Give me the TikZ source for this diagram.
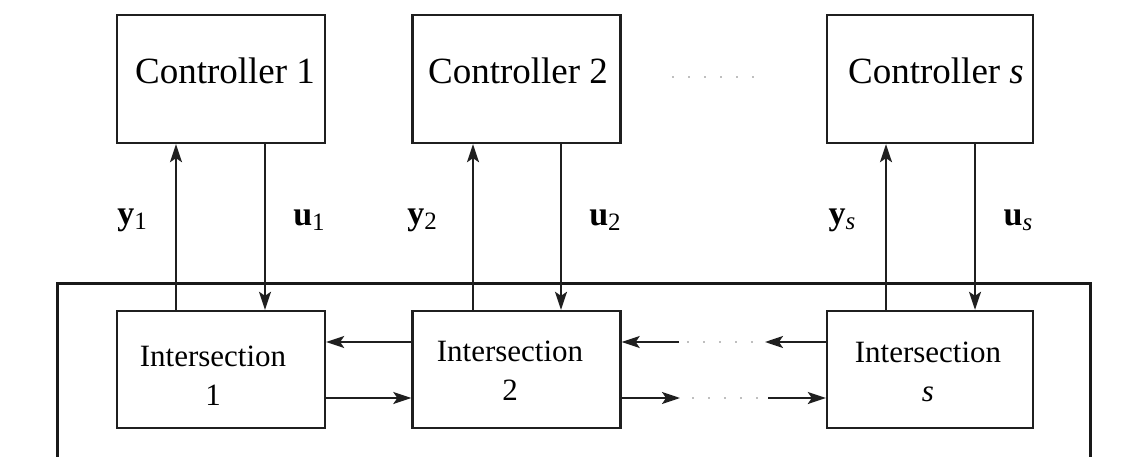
\documentclass[tikz,border=0pt]{standalone}
\usepackage{fontspec}
\setmainfont{Liberation Serif}
\usetikzlibrary{arrows.meta,calc}
\newcommand{\vlab}[2]{\textbf{#1}\raisebox{-5pt}{\fontsize{25}{25}\selectfont #2}}
\begin{document}
\begin{tikzpicture}[x=1pt,y=-1pt,
 box/.style={draw=black!88, line width=2.4pt, minimum width=208pt, inner sep=0pt},
 ctrl/.style={box, minimum height=128pt},
 inter/.style={box, minimum height=117pt},
 ctxt/.style={font=\fontsize{37}{44}\selectfont, inner sep=0pt},
 itxt/.style={font=\fontsize{31}{39}\selectfont, inner sep=0pt, align=center, anchor=north},
 lab/.style={font=\fontsize{34}{40}\selectfont, inner sep=0pt},
 arr/.style={draw=black!88, line width=2pt, -{Stealth[length=18pt,width=12pt,inset=4pt]}},
 dots/.style={draw=gray!50, line width=2pt, dash pattern=on 2pt off 14pt},
 frame/.style={draw=black!90, line width=3pt}]
\path[use as bounding box] (0,0) rectangle (1135,457);
% controllers
\node[ctrl] (c1) at (221,79) {};
\node[ctrl] (c2) at (516.5,79) {};
\node[ctrl, minimum width=206pt] (cs) at (930,79) {};
\node[ctxt] (c1t) at (225,71) {Controller 1};
\node[ctxt] (c2t) at (518,71) {Controller 2};
\node[ctxt] (cst) at (936,71) {Controller \textit{s}};
% intersections
\node[inter] (i1) at (221,369.5) {};
\node[inter] (i2) at (516.5,369.5) {};
\node[inter, minimum width=206pt] (is) at (930,369.5) {};
\node[itxt] (i1t) at (213,346) {Intersection\\1};
\node[itxt] (i2t) at (510,341) {Intersection\\2};
\node[itxt] (ist) at (928,342) {Intersection\\\textit{s}};
% outer frame
\coordinate (fbl) at (57,470);
\coordinate (ftl) at (57,283);
\coordinate (ftr) at (1090,283);
\coordinate (fbr) at (1090,470);
\begin{scope}
\clip (0,0) rectangle (1135,457);
\draw[frame] (fbl) -- (ftl) -- (ftr) -- (fbr);
\end{scope}
% vertical arrows
\draw[arr] ([xshift=-45pt]i1.north) -- ([xshift=-45pt]c1.south);
\draw[arr] ([xshift=44pt]c1.south) -- ([xshift=44pt]i1.north);
\draw[arr] ([xshift=-43.5pt]i2.north) -- ([xshift=-43.5pt]c2.south);
\draw[arr] ([xshift=44.5pt]c2.south) -- ([xshift=44.5pt]i2.north);
\draw[arr] ([xshift=-44pt]is.north) -- ([xshift=-44pt]cs.south);
\draw[arr] ([xshift=45pt]cs.south) -- ([xshift=45pt]is.north);
% labels
\node[lab] (ly1) at (132,220) {\vlab{y}{1}};
\node[lab] (lu1) at (309,220) {\vlab{u}{1}};
\node[lab] (ly2) at (422,220) {\vlab{y}{2}};
\node[lab] (lu2) at (605,220) {\vlab{u}{2}};
\node[lab] (lys) at (842,220) {\vlab{y}{\textit{s}}};
\node[lab] (lus) at (1018,220) {\vlab{u}{\textit{s}}};
% horizontal arrows 1-2
\draw[arr] ([yshift=27.5pt]i2.west) -- ([yshift=27.5pt]i1.east);
\draw[arr] ([yshift=-28.5pt]i1.east) -- ([yshift=-28.5pt]i2.west);
% horizontal arrows 2-s with gaps
\coordinate (ua) at (765,342);
\coordinate (ub) at (679,342);
\coordinate (la) at (680,398);
\coordinate (lb) at (768,398);
\draw[arr] ([yshift=27.5pt]is.west) -- (ua);
\draw[arr] (ub) -- ([yshift=27.5pt]i2.east);
\draw[dots] ([xshift=8pt]ub) -- (ua);
\draw[arr] ([yshift=-28.5pt]i2.east) -- (la);
\draw[arr] (lb) -- ([yshift=-28.5pt]is.west);
\draw[dots] ([xshift=12pt]la) -- (lb);
% top dots
\coordinate (da) at (672,77);
\coordinate (db) at (765,77);
\draw[dots] (da) -- (db);
\end{tikzpicture}
\end{document}
